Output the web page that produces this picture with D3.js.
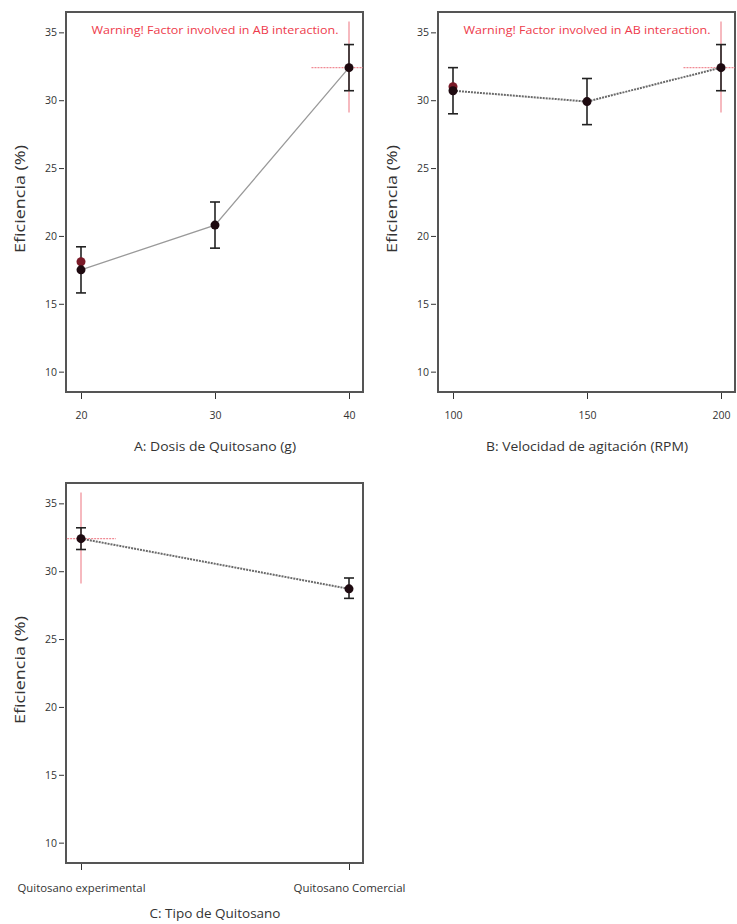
<!DOCTYPE html>
<html lang="en">
<head>
<meta charset="utf-8">
<title>Efectos principales - Eficiencia</title>
<script src="https://cdn.jsdelivr.net/npm/d3@7"></script>
<style>
  body { margin: 0; background: #fff; }
  svg { display: block; }
  .tick text { font-family: "Open Sans", sans-serif; fill: #333; }
</style>
</head>
<body>
<div id="chart"></div>
<script>
// ---- data ----
var yTicks = [10, 15, 20, 25, 30, 35];
var yTitle = "Eficiencia (%)";
var warning = "Warning! Factor involved in AB interaction.";

// A: dose
var levelsA = [20, 30, 40];
var meanA = [17.5, 20.8, 32.4];
var lowA = [15.8, 19.1, 30.7];
var highA = [19.2, 22.5, 34.1];
var designA = [[20, 18.1]];
var crossA = {x: 40, y: 32.4, x0: 37.2, x1: 42.8, y0: 29.1, y1: 35.8};

// B: agitation speed
var levelsB = [100, 150, 200];
var meanB = [30.7, 29.9, 32.4];
var lowB = [29.0, 28.2, 30.7];
var highB = [32.4, 31.6, 34.1];
var designB = [[100, 31.0]];
var crossB = {x: 200, y: 32.4, x0: 186, x1: 214, y0: 29.1, y1: 35.8};

// C: chitosan type (index positions 0, 1)
var levelsC = ["Quitosano experimental", "Quitosano Comercial"];
var meanC = [32.4, 28.7];
var lowC = [31.6, 28.0];
var highC = [33.2, 29.5];
var designC = [];
var crossC = {x: 0, y: 32.4, x0: -0.13, x1: 0.13, y0: 29.1, y1: 35.8};

var w = 737, h = 924;
var svg = d3.select("#chart").append("svg").attr("width", w).attr("height", h);

var panels = [
    {left: 66, top: 12, levels: levelsA, mean: meanA, low: lowA, high: highA, design: designA, cross: crossA,
     title: "A: Dosis de Quitosano (g)", titleLen: 162, dashed: false, warn: true, cat: false},
    {left: 438, top: 12, levels: levelsB, mean: meanB, low: lowB, high: highB, design: designB, cross: crossB,
     title: "B: Velocidad de agitación (RPM)", titleLen: 202, dashed: true, warn: true, cat: false},
    {left: 66, top: 483, levels: levelsC, mean: meanC, low: lowC, high: highC, design: designC, cross: crossC,
     title: "C: Tipo de Quitosano", titleLen: 131, dashed: true, warn: false, cat: true}
];

var pw = 297, ph = 380;
var font = "'Open Sans', sans-serif";

panels.forEach(function (p, k) {
    var g = svg.append("g").attr("transform", "translate(" + p.left + "," + p.top + ")");

    var xs = p.cat ? [0, p.levels.length - 1] : [p.levels[0], p.levels[p.levels.length - 1]];
    var x = d3.scaleLinear().domain(xs).range([15, pw - 14]);
    var y = d3.scaleLinear().domain([8.5, 36.5]).range([ph, 0]);
    var xv = function (d, i) { return p.cat ? i : d; };

    g.append("clipPath").attr("id", "clip" + k)
        .append("rect").attr("width", pw).attr("height", ph);

    // axes
    var yAxis = d3.axisLeft(y).tickValues(yTicks).tickSize(5).tickPadding(2);
    var ya = g.append("g").attr("transform", "translate(-2,0)").call(yAxis);
    ya.select(".domain").remove();
    ya.selectAll("text").style("font-size", "10.5px");
    ya.selectAll("line").attr("stroke", "#333");

    var xAxis = d3.axisBottom(x)
        .tickValues(p.levels.map(xv))
        .tickFormat(function (d) { return p.cat ? p.levels[d] : d; })
        .tickSize(6).tickPadding(p.cat ? 14 : 13);
    var xa = g.append("g").attr("transform", "translate(0," + (ph + 1) + ")").call(xAxis);
    xa.select(".domain").remove();
    xa.selectAll("text").style("font-size", p.cat ? "11px" : "10.5px");
    if (p.cat) {
        xa.selectAll("text").attr("textLength", function (d) { return d === 0 ? 128 : 112; })
            .attr("lengthAdjust", "spacingAndGlyphs");
    }
    xa.selectAll("line").attr("stroke", "#333");

    // frame
    g.append("rect").attr("width", pw).attr("height", ph)
        .attr("fill", "none").attr("stroke", "#555").attr("stroke-width", 2);

    // axis titles
    g.append("text")
        .attr("transform", "translate(-41," + (ph / 2 - 3) + ")rotate(-90)")
        .attr("text-anchor", "middle")
        .style("font-family", font).style("font-size", "14px").attr("fill", "#333")
        .attr("textLength", 108).attr("lengthAdjust", "spacingAndGlyphs")
        .text(yTitle);
    g.append("text")
        .attr("x", x((xs[0] + xs[1]) / 2)).attr("y", ph + (p.cat ? 55 : 59))
        .attr("text-anchor", "middle")
        .style("font-family", font).style("font-size", "13px").attr("fill", "#333")
        .attr("textLength", p.titleLen).attr("lengthAdjust", "spacingAndGlyphs")
        .text(p.title);

    if (p.warn) {
        g.append("text")
            .attr("x", x((xs[0] + xs[1]) / 2) + 0).attr("y", 22)
            .attr("text-anchor", "middle")
            .style("font-family", font).style("font-size", "11.5px")
            .attr("fill", "#ee3b4c")
            .attr("textLength", 247).attr("lengthAdjust", "spacingAndGlyphs")
            .text(warning);
    }

    var plot = g.append("g").attr("clip-path", "url(#clip" + k + ")");

    // red cross-hair at the current factor setting
    var c = p.cross;
    plot.append("line")
        .attr("x1", x(c.x)).attr("x2", x(c.x)).attr("y1", y(c.y0)).attr("y2", y(c.y1))
        .attr("stroke", "#f08a94").attr("stroke-width", 1.2);
    plot.append("line")
        .attr("x1", x(c.x0)).attr("x2", x(c.x1)).attr("y1", y(c.y)).attr("y2", y(c.y))
        .attr("stroke", "#f08a94").attr("stroke-width", 1.2).attr("stroke-dasharray", "2,1");

    // prediction line
    var pts = p.levels.map(function (d, i) { return [x(xv(d, i)), y(p.mean[i])]; });
    plot.append("path")
        .attr("d", d3.line()(pts))
        .attr("fill", "none")
        .attr("stroke", p.dashed ? "#6a6a6a" : "#9a9a9a")
        .attr("stroke-width", p.dashed ? 2 : 1.3)
        .attr("stroke-dasharray", p.dashed ? "2,1" : null);

    // error bars
    p.levels.forEach(function (d, i) {
        var cx = x(xv(d, i));
        var eb = plot.append("g").attr("stroke", "#222").attr("stroke-width", 1.6);
        eb.append("line").attr("x1", cx).attr("x2", cx).attr("y1", y(p.low[i])).attr("y2", y(p.high[i]));
        eb.append("line").attr("x1", cx - 5).attr("x2", cx + 5).attr("y1", y(p.low[i])).attr("y2", y(p.low[i]));
        eb.append("line").attr("x1", cx - 5).attr("x2", cx + 5).attr("y1", y(p.high[i])).attr("y2", y(p.high[i]));
    });

    // design points
    plot.selectAll(".dp").data(p.design).enter().append("circle")
        .attr("class", "dp")
        .attr("cx", function (d) { return x(d[0]); })
        .attr("cy", function (d) { return y(d[1]); })
        .attr("r", 4.5).attr("fill", "#7a1a28");

    // predicted means
    plot.selectAll(".mp").data(p.mean).enter().append("circle")
        .attr("class", "mp")
        .attr("cx", function (d, i) { return x(xv(p.levels[i], i)); })
        .attr("cy", function (d) { return y(d); })
        .attr("r", 4.5).attr("fill", "#1e0a10");
});
</script>
</body>
</html>
